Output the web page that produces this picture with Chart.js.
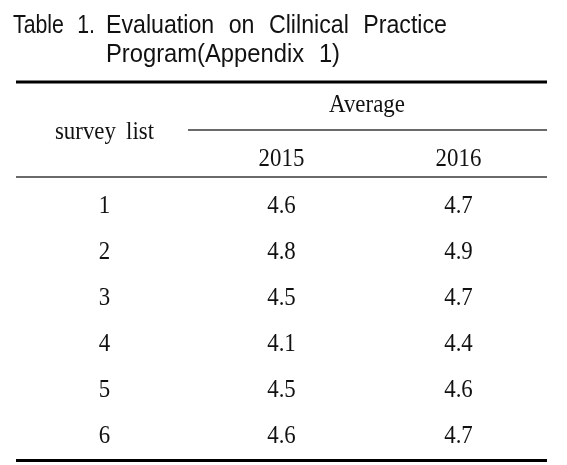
<!DOCTYPE html>
<html>
<head>
<meta charset="utf-8">
<script src="https://cdn.jsdelivr.net/npm/chart.js@4.4.1/dist/chart.umd.min.js"></script>
<style>
  html, body { margin: 0; padding: 0; background: #fff; }
  #wrap { width: 567px; height: 465px; }
</style>
</head>
<body>
<div id="wrap"><canvas id="tbl"></canvas></div>
<script>
var titleLabel = 'Table 1.'
var titleLine1 = 'Evaluation on Clilnical Practice'
var titleLine2 = 'Program(Appendix 1)'
var groupHead = 'Average'
var rowHead = 'survey list'
var years = ['2015', '2016']
var surveyItems = ['1', '2', '3', '4', '5', '6']
var avg2015 = [4.6, 4.8, 4.5, 4.1, 4.5, 4.6]
var avg2016 = [4.7, 4.9, 4.7, 4.4, 4.6, 4.7]

var serif = '26px "Liberation Serif", "DejaVu Serif", serif'
var sans = '26px "Liberation Sans", "DejaVu Sans", sans-serif'

// one column per dataset, one row per survey item
var toCells = (col, texts) => texts.map((t, i) => ({ x: col, y: i + 1, t: t }))

// squeeze text horizontally, the original faces are narrower
var squeezed = (ctx, text, x, y, sx) => {
    ctx.save()
    ctx.translate(x, y)
    ctx.scale(sx, 1)
    ctx.fillText(text, 0, 0)
    ctx.restore()
}
var fitted = (ctx, text, x, y, w) => {
    squeezed(ctx, text, x, y, w / ctx.measureText(text).width)
}

var tablePlugin = {
    id: 'tableText',
    afterDraw: (chart) => {
        var ctx = chart.ctx
        var xs = chart.scales.x
        var left = 16, right = 547

        ctx.save()
        ctx.fillStyle = '#111'

        // title, narrow letters with wide word gaps
        ctx.font = sans
        ctx.textAlign = 'left'
        ctx.textBaseline = 'alphabetic'
        ctx.wordSpacing = '9px'
        fitted(ctx, titleLabel, 13, 33, 82)
        fitted(ctx, titleLine1, 106, 33, 341)
        fitted(ctx, titleLine2, 106, 62, 234)
        ctx.wordSpacing = '0px'

        // rules
        ctx.strokeStyle = '#000'
        ctx.lineWidth = 3
        ctx.beginPath()
        ctx.moveTo(left, 82); ctx.lineTo(right, 82)
        ctx.moveTo(left, 460.5); ctx.lineTo(right, 460.5)
        ctx.stroke()
        ctx.strokeStyle = '#6a6a6a'
        ctx.lineWidth = 1.8
        ctx.beginPath()
        ctx.moveTo(188, 130); ctx.lineTo(right, 130)
        ctx.moveTo(left, 177); ctx.lineTo(right, 177)
        ctx.stroke()

        // header
        ctx.font = serif
        ctx.textAlign = 'center'
        squeezed(ctx, groupHead, 367, 112, 0.88)
        ctx.wordSpacing = '5px'
        squeezed(ctx, rowHead, xs.getPixelForValue(0), 139, 0.88)
        ctx.wordSpacing = '0px'
        years.forEach((y, i) => squeezed(ctx, y, xs.getPixelForValue(i + 1), 166, 0.88))

        // cells
        chart.data.datasets.forEach((ds, di) => {
            chart.getDatasetMeta(di).data.forEach((pt, i) => {
                squeezed(ctx, ds.data[i].t, pt.x, pt.y + 8, 0.88)
            })
        })
        ctx.restore()
    }
}

var chartTbl = new Chart(document.getElementById('tbl'), {
    type: 'scatter',
    data: {
        datasets: [
            { label: rowHead, data: toCells(0, surveyItems) },
            { label: years[0], data: toCells(1, avg2015.map(v => v.toFixed(1))) },
            { label: years[1], data: toCells(2, avg2016.map(v => v.toFixed(1))) }
        ]
    },
    options: {
        responsive: true,
        maintainAspectRatio: false,
        animation: false,
        events: [],
        elements: { point: { radius: 0 } },
        layout: { padding: { left: 16, right: 20, top: 182, bottom: 7 } },
        scales: {
            x: { type: 'linear', min: -0.5, max: 2.5, display: false },
            y: { type: 'linear', min: 0.5, max: 6.5, reverse: true, display: false }
        },
        plugins: { legend: { display: false }, tooltip: { enabled: false } }
    },
    plugins: [tablePlugin]
})
</script>
</body>
</html>
